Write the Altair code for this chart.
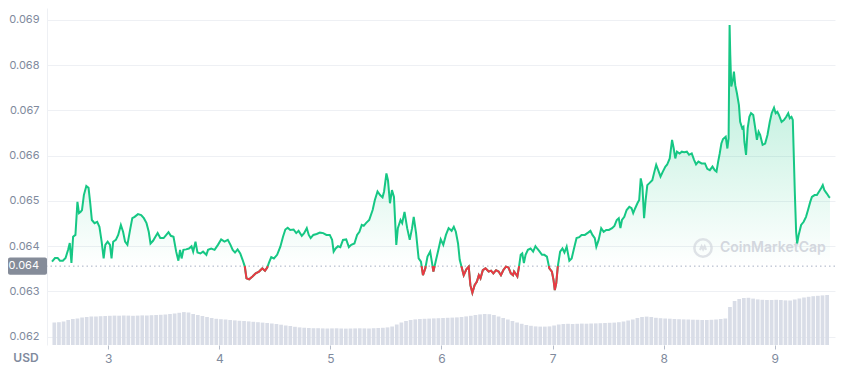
import altair as alt
import pandas as pd

# ---------------- data ----------------
days = [2.493, 2.520, 2.544, 2.564, 2.591, 2.615, 2.638, 2.653, 2.668, 2.683, 2.704, 2.722, 2.736, 2.751, 2.763, 2.780, 2.802, 2.822, 2.837, 2.852,
        2.876, 2.900, 2.920, 2.940, 2.958, 2.973, 2.994, 3.015, 3.029, 3.044, 3.068, 3.089, 3.113, 3.133, 3.151, 3.172, 3.196, 3.216, 3.237, 3.267,
        3.296, 3.320, 3.344, 3.364, 3.380, 3.403, 3.424, 3.444, 3.468, 3.498, 3.522, 3.542, 3.563, 3.587, 3.611, 3.631, 3.646, 3.660, 3.676, 3.700,
        3.726, 3.749, 3.764, 3.785, 3.803, 3.829, 3.853, 3.883, 3.898, 3.927, 3.957, 3.987, 4.016, 4.046, 4.076, 4.100, 4.120, 4.141, 4.164, 4.188,
        4.209, 4.229, 4.244, 4.268, 4.298, 4.327, 4.357, 4.387, 4.411, 4.431, 4.446, 4.467, 4.491, 4.520, 4.549, 4.573, 4.594, 4.615, 4.638, 4.668,
        4.692, 4.713, 4.742, 4.763, 4.787, 4.805, 4.822, 4.846, 4.876, 4.905, 4.935, 4.964, 4.994, 5.015, 5.029, 5.047, 5.068, 5.089, 5.113, 5.142,
        5.166, 5.187, 5.216, 5.240, 5.261, 5.282, 5.300, 5.320, 5.349, 5.380, 5.400, 5.424, 5.447, 5.469, 5.483, 5.504, 5.518, 5.536, 5.554, 5.572,
        5.593, 5.607, 5.631, 5.646, 5.667, 5.691, 5.714, 5.735, 5.750, 5.771, 5.794, 5.815, 5.833, 5.854, 5.874, 5.898, 5.913, 5.927, 5.951, 5.972,
        5.993, 6.016, 6.040, 6.064, 6.091, 6.111, 6.129, 6.149, 6.164, 6.180, 6.200, 6.224, 6.245, 6.260, 6.278, 6.298, 6.319, 6.336, 6.351, 6.372,
        6.396, 6.425, 6.446, 6.467, 6.491, 6.514, 6.535, 6.556, 6.580, 6.603, 6.624, 6.644, 6.653, 6.668, 6.683, 6.698, 6.713, 6.727, 6.742, 6.757,
        6.778, 6.802, 6.825, 6.846, 6.861, 6.884, 6.905, 6.926, 6.949, 6.971, 6.994, 7.009, 7.020, 7.033, 7.047, 7.068, 7.089, 7.107, 7.127, 7.151,
        7.172, 7.193, 7.216, 7.240, 7.261, 7.291, 7.320, 7.341, 7.359, 7.380, 7.394, 7.415, 7.438, 7.460, 7.483, 7.507, 7.536, 7.557, 7.578, 7.596,
        7.611, 7.625, 7.646, 7.667, 7.691, 7.711, 7.726, 7.744, 7.764, 7.780, 7.794, 7.809, 7.824, 7.838, 7.853, 7.874, 7.898, 7.913, 7.933, 7.951,
        7.972, 7.993, 8.016, 8.031, 8.055, 8.076, 8.091, 8.105, 8.120, 8.144, 8.164, 8.185, 8.209, 8.229, 8.253, 8.274, 8.292, 8.313, 8.342, 8.372,
        8.393, 8.416, 8.440, 8.461, 8.476, 8.491, 8.505, 8.520, 8.535, 8.559, 8.574, 8.585, 8.594, 8.600, 8.609, 8.624, 8.633, 8.645, 8.660, 8.678,
        8.689, 8.707, 8.719, 8.727, 8.742, 8.757, 8.772, 8.787, 8.807, 8.825, 8.840, 8.855, 8.869, 8.891, 8.914, 8.935, 8.956, 8.973, 8.994, 9.009,
        9.024, 9.038, 9.062, 9.083, 9.104, 9.122, 9.136, 9.151, 9.163, 9.181, 9.193, 9.202, 9.216, 9.238, 9.261, 9.282, 9.300, 9.320, 9.335, 9.359,
        9.380, 9.400, 9.418, 9.433, 9.447, 9.468, 9.489, 9.498]

prices = [0.06366, 0.06374, 0.06374, 0.06368, 0.06368, 0.06374, 0.06392, 0.06407, 0.06363, 0.06421, 0.06425, 0.06498, 0.06473, 0.06476, 0.06480, 0.06513, 0.06533, 0.06529, 0.06496, 0.06458,
          0.06451, 0.06454, 0.06443, 0.06410, 0.06373, 0.06403, 0.06410, 0.06403, 0.06373, 0.06410, 0.06414, 0.06425, 0.06447, 0.06432, 0.06410, 0.06403, 0.06436, 0.06462, 0.06465, 0.06471,
          0.06469, 0.06462, 0.06451, 0.06432, 0.06406, 0.06412, 0.06421, 0.06429, 0.06418, 0.06418, 0.06425, 0.06431, 0.06423, 0.06421, 0.06388, 0.06368, 0.06392, 0.06373, 0.06392, 0.06393,
          0.06395, 0.06400, 0.06388, 0.06410, 0.06386, 0.06384, 0.06388, 0.06381, 0.06392, 0.06395, 0.06392, 0.06403, 0.06415, 0.06410, 0.06414, 0.06403, 0.06392, 0.06386, 0.06393, 0.06384,
          0.06370, 0.06355, 0.06329, 0.06327, 0.06333, 0.06340, 0.06344, 0.06351, 0.06346, 0.06353, 0.06363, 0.06376, 0.06373, 0.06381, 0.06399, 0.06421, 0.06437, 0.06441, 0.06436, 0.06437,
          0.06429, 0.06434, 0.06423, 0.06429, 0.06440, 0.06425, 0.06418, 0.06425, 0.06427, 0.06430, 0.06429, 0.06425, 0.06425, 0.06414, 0.06388, 0.06395, 0.06400, 0.06398, 0.06414, 0.06415,
          0.06398, 0.06403, 0.06406, 0.06425, 0.06432, 0.06447, 0.06445, 0.06451, 0.06458, 0.06480, 0.06502, 0.06521, 0.06513, 0.06508, 0.06521, 0.06561, 0.06546, 0.06495, 0.06524, 0.06509,
          0.06403, 0.06440, 0.06458, 0.06451, 0.06476, 0.06440, 0.06414, 0.06440, 0.06465, 0.06429, 0.06373, 0.06366, 0.06336, 0.06351, 0.06377, 0.06388, 0.06366, 0.06344, 0.06370, 0.06392,
          0.06415, 0.06403, 0.06425, 0.06440, 0.06434, 0.06443, 0.06432, 0.06406, 0.06370, 0.06355, 0.06336, 0.06349, 0.06355, 0.06314, 0.06297, 0.06314, 0.06322, 0.06336, 0.06329, 0.06347,
          0.06351, 0.06344, 0.06346, 0.06340, 0.06347, 0.06344, 0.06336, 0.06347, 0.06355, 0.06353, 0.06340, 0.06336, 0.06344, 0.06339, 0.06333, 0.06355, 0.06381, 0.06384, 0.06363, 0.06381,
          0.06392, 0.06395, 0.06388, 0.06400, 0.06395, 0.06388, 0.06381, 0.06381, 0.06377, 0.06351, 0.06344, 0.06325, 0.06303, 0.06318, 0.06355, 0.06388, 0.06395, 0.06386, 0.06399, 0.06368,
          0.06373, 0.06395, 0.06418, 0.06420, 0.06425, 0.06425, 0.06430, 0.06434, 0.06425, 0.06418, 0.06399, 0.06414, 0.06440, 0.06432, 0.06436, 0.06436, 0.06440, 0.06445, 0.06458, 0.06462,
          0.06440, 0.06458, 0.06465, 0.06480, 0.06487, 0.06484, 0.06473, 0.06484, 0.06495, 0.06502, 0.06550, 0.06532, 0.06462, 0.06502, 0.06535, 0.06540, 0.06546, 0.06561, 0.06580, 0.06568,
          0.06554, 0.06565, 0.06576, 0.06580, 0.06594, 0.06635, 0.06616, 0.06594, 0.06609, 0.06605, 0.06609, 0.06608, 0.06609, 0.06602, 0.06605, 0.06591, 0.06581, 0.06587, 0.06583, 0.06583,
          0.06571, 0.06568, 0.06576, 0.06568, 0.06565, 0.06587, 0.06605, 0.06627, 0.06637, 0.06642, 0.06616, 0.06639, 0.06889, 0.06823, 0.06753, 0.06767, 0.06786, 0.06756, 0.06738, 0.06712,
          0.06675, 0.06661, 0.06664, 0.06631, 0.06602, 0.06661, 0.06686, 0.06694, 0.06690, 0.06661, 0.06635, 0.06653, 0.06646, 0.06624, 0.06627, 0.06646, 0.06675, 0.06694, 0.06706, 0.06694,
          0.06697, 0.06690, 0.06675, 0.06679, 0.06686, 0.06694, 0.06683, 0.06686, 0.06679, 0.06521, 0.06432, 0.06406, 0.06425, 0.06447, 0.06454, 0.06465, 0.06480, 0.06498, 0.06509, 0.06513,
          0.06513, 0.06521, 0.06528, 0.06535, 0.06524, 0.06517, 0.06509, 0.06507]

# hourly trading volume (relative units), first hour starts at day 2.493
volume = [22.5, 22.8, 23.5, 25.0, 26.0, 26.5, 27.5, 28.0, 28.5, 28.5, 28.8, 29.0,
          29.2, 29.4, 29.3, 29.5, 29.4, 29.2, 29.4, 29.6, 29.5, 29.8, 30.0, 30.2,
          30.5, 31.0, 31.5, 32.2, 32.9, 32.5, 31.0, 30.0, 29.0, 28.0, 27.0, 26.2,
          25.8, 25.5, 25.0, 24.6, 24.2, 24.0, 23.6, 23.2, 22.8, 22.4, 22.0, 21.5,
          21.0, 20.3, 19.5, 19.0, 18.2, 17.6, 17.2, 17.0, 16.8, 16.8, 16.6, 16.5,
          16.6, 16.7, 16.5, 16.4, 16.5, 16.6, 16.7, 16.6, 16.5, 16.8, 17.0, 17.2,
          17.6, 18.5, 20.5, 22.5, 24.0, 25.0, 25.6, 26.0, 26.2, 26.4, 26.6, 26.8,
          27.0, 27.2, 27.4, 27.6, 28.0, 28.6, 29.2, 30.0, 30.6, 31.0, 30.8, 30.0,
          28.5, 27.0, 25.5, 24.0, 22.5, 21.2, 20.0, 19.2, 18.6, 18.4, 18.4, 18.6,
          19.5, 20.5, 21.0, 21.2, 21.0, 21.2, 21.4, 21.3, 21.5, 21.6, 21.8, 22.0,
          22.2, 22.4, 22.8, 23.5, 24.5, 25.5, 27.0, 28.0, 28.4, 28.0, 27.2, 26.8,
          26.5, 26.3, 26.0, 25.8, 25.6, 25.5, 25.3, 25.2, 25.0, 25.0, 25.2, 25.5,
          26.0, 26.5, 38.0, 44.0, 46.0, 47.0, 47.2, 46.4, 45.6, 45.2, 45.0, 45.0,
          45.2, 45.0, 44.6, 44.5, 45.5, 46.5, 47.5, 48.2, 48.8, 49.2, 49.6, 50.0]

BASE = 0.06356                      # opening price shown by the dotted line
tick_days = [3, 4, 5, 6, 7, 8, 9]
price_ticks = [0.062, 0.063, 0.064, 0.065, 0.066, 0.067, 0.068, 0.069]
X_DOMAIN = [2.493, 9.498]
Y_DOMAIN = [0.061817, 0.069265]
VOL_DOMAIN = [0, 337]

GREEN = "#16c784"
RED = "#ea3943"
GREY = "#808a9d"
WATERMARK = "#d3d7de"

# ---------------- tables ----------------
df = pd.DataFrame({"day": days, "price": prices})
df["top"] = df["price"].clip(lower=BASE)
df["base"] = BASE

vol_df = pd.DataFrame({"t": [X_DOMAIN[0] + (i + 0.5) / 24 for i in range(len(volume))],
                       "vol": volume})

# red segments (below the opening price), split at baseline crossings
segs = []
cur = None
for i, (d, p) in enumerate(zip(days, prices)):
    if i > 0:
        d0, p0 = days[i - 1], prices[i - 1]
        if (p0 < BASE) != (p < BASE):
            t = (BASE - p0) / (p - p0)
            dc = d0 + t * (d - d0)
            if p < BASE:
                cur = [(dc, BASE)]
            else:
                cur.append((dc, BASE))
                segs.append(cur)
                cur = None
    if p < BASE:
        if cur is None:
            cur = []
        cur.append((d, p))
if cur:
    segs.append(cur)
red_rows = []
for k, s in enumerate(segs):
    for j, (d, p) in enumerate(s):
        red_rows.append({"day": d, "price": p, "seg": k, "order": j})
red_df = pd.DataFrame(red_rows)

base_df = pd.DataFrame({"base": [BASE], "label": [f"{BASE:.3f}"]})

# ---------------- encodings ----------------
def xenc(field):
    return alt.X(f"{field}:Q",
                 scale=alt.Scale(domain=X_DOMAIN, nice=False, zero=False),
                 axis=alt.Axis(values=tick_days, format="d", title=None, grid=False,
                               domain=False, tickColor="#b5bcc9", tickSize=4,
                               labelColor=GREY, labelFontSize=12, labelPadding=4))

yscale = alt.Scale(domain=Y_DOMAIN, nice=False, zero=False)
yaxis = alt.Axis(values=price_ticks, format=".3f", orient="left", title=None,
                 grid=True, gridColor="#eef0f4", domain=True, domainColor="#eef0f4",
                 ticks=False, labelColor=GREY, labelFontSize=11, labelPadding=8)

vol_chart = alt.Chart(vol_df).mark_bar(color="#d9dde7", width=3.7).encode(
    x=xenc("t"),
    y=alt.Y("vol:Q", scale=alt.Scale(domain=VOL_DOMAIN), axis=None),
)

area = alt.Chart(df).mark_area(
    interpolate="linear",
    color=alt.Gradient(gradient="linear",
                       stops=[alt.GradientStop(color="rgba(22,199,132,0.36)", offset=0),
                              alt.GradientStop(color="rgba(22,199,132,0.0)", offset=1)],
                       x1=1, x2=1, y1=0, y2=1),
).encode(x=xenc("day"), y=alt.Y("top:Q", scale=yscale, axis=yaxis), y2="base:Q")

rule = alt.Chart(base_df).mark_rule(color="#a6b0c3", strokeDash=[1.5, 3], strokeWidth=1).encode(
    y=alt.Y("base:Q", scale=yscale, axis=yaxis))

green_line = alt.Chart(df).mark_line(color=GREEN, strokeWidth=2, interpolate="linear").encode(
    x=xenc("day"), y=alt.Y("price:Q", scale=yscale, axis=yaxis))

red_line = alt.Chart(red_df).mark_line(color=RED, strokeWidth=2, interpolate="linear").encode(
    x=xenc("day"), y=alt.Y("price:Q", scale=yscale, axis=yaxis),
    detail="seg:N", order="order:Q")

label_box = alt.Chart(base_df).transform_calculate(
    y1="datum.base + 0.00019", y2="datum.base - 0.00019"
).mark_rect(color="#858c99", cornerRadius=2).encode(
    x=alt.value(-39), x2=alt.value(0),
    y=alt.Y("y1:Q", scale=yscale, axis=yaxis), y2="y2:Q")

label_text = alt.Chart(base_df).mark_text(align="right", baseline="middle", color="white",
                                          fontSize=11).encode(
    x=alt.value(-8), y=alt.Y("base:Q", scale=yscale, axis=yaxis), text="label:N")

usd = alt.Chart(base_df).mark_text(text="USD", align="center", baseline="middle",
                                   color=GREY, fontSize=12, fontWeight=600).encode(
    x=alt.value(-21), y=alt.value(350))

wm_text = alt.Chart(base_df).mark_text(text="CoinMarketCap", align="left", baseline="middle",
                                       color=WATERMARK, fontSize=14, fontWeight=600).encode(
    x=alt.value(673), y=alt.value(240))
wm_ring = alt.Chart(base_df).mark_point(shape="circle", filled=False, size=300,
                                        color=WATERMARK, strokeWidth=2.5).encode(
    x=alt.value(656), y=alt.value(240))
wm_wave = alt.Chart(base_df).mark_point(
    shape="M -0.55 0.35 L -0.25 -0.3 L 0.02 0.25 L 0.3 -0.3 L 0.55 0.35",
    filled=False, size=120, color=WATERMARK, strokeWidth=2.2).encode(
    x=alt.value(656), y=alt.value(240))

price_layers = alt.layer(area, wm_ring, wm_wave, wm_text, rule, green_line, red_line,
                         label_box, label_text, usd)

chart = alt.layer(vol_chart, price_layers).resolve_scale(y="independent").properties(
    width=788, height=337,
    autosize=alt.AutoSizeParams(type="none"),
    padding={"left": 39, "top": 0, "right": 7, "bottom": 22},
).configure(font="Inter").configure_view(stroke=None)

chart.save("out.html", embed_options={"renderer": "svg", "actions": False})
